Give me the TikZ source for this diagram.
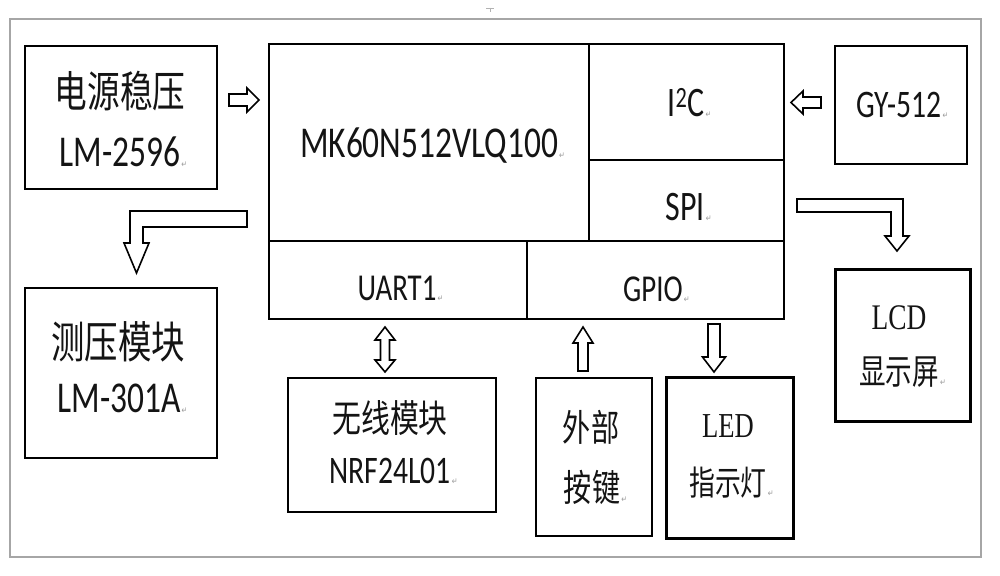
\documentclass[tikz,border=0pt]{standalone}
\usepackage{fontspec}
\setmainfont{Carlito}
\newfontfamily\cjk{Noto Sans CJK SC}
\newfontfamily\tms{Liberation Serif}
\newfontfamily\djv{DejaVu Sans}
\usepackage{graphicx}
\newcommand\sq[1]{\scalebox{0.76}[1]{#1}}
\newcommand\retmark{\rlap{\kern1.5pt\raisebox{-1pt}{\djv\fontsize{9}{9}\selectfont\color{gray!80}↵}}}
\newcommand\fsz[1]{\fontsize{#1}{#1}\selectfont}
\tikzset{
 box/.style={draw=black, line width=2pt, anchor=north west, inner sep=0pt},
 thickbox/.style={box, line width=3.2pt},
 lbl/.style={inner sep=0pt, anchor=center, text=black!92},
 blk/.style={draw=black, line width=1.6pt, fill=white, line join=miter},
 divline/.style={draw=black, line width=2pt},
}
\begin{document}
\begin{tikzpicture}[x=1pt,y=-1pt]
\useasboundingbox (0,0) rectangle (1000,575);
\fill[white] (0,0) rectangle (1000,575);
\draw[gray!70, line width=1.5pt] (10,19) rectangle (981,557);
% small anchor mark at top
\coordinate (mkL) at (486,8);
\coordinate (mkR) at (494,8);
\coordinate (mkT) at (490,8);
\coordinate (mkB) at (490,12);
\draw[gray!60, line width=0.8pt] (mkL) -- (mkR) (mkT) -- (mkB);

% boxes
\node[box, minimum width=192pt, minimum height=143pt] (pwr) at (24,45) {};
\node[box, minimum width=515pt, minimum height=275pt] (mcu) at (268,43) {};
\node[box, minimum width=132pt, minimum height=118pt] (gy) at (834,45) {};
\node[thickbox, minimum width=135pt, minimum height=152pt] (lcd) at (834,268) {};
\node[box, minimum width=192pt, minimum height=170pt] (press) at (24,287) {};
\node[box, minimum width=208pt, minimum height=134pt] (rf) at (287,377) {};
\node[box, minimum width=116pt, minimum height=158pt] (key) at (535,377) {};
\node[thickbox, minimum width=127pt, minimum height=161pt] (led) at (665,376) {};

% MCU internal dividers
\coordinate (v1t) at (589,43);
\coordinate (v1b) at (589,241);
\coordinate (hl) at (268,241);
\coordinate (hr) at (783,241);
\coordinate (h2l) at (589,160);
\coordinate (h2r) at (783,160);
\coordinate (v2t) at (527,241);
\coordinate (v2b) at (527,318);
\draw[divline] (v1t) -- (v1b);
\draw[divline] (hl) -- (hr);
\draw[divline] (h2l) -- (h2r);
\draw[divline] (v2t) -- (v2b);

% labels
\node[lbl, font=\cjk\fsz{43}] (pwrA) at (120,91) {\sq{电源稳压}};
\node[lbl, font=\fsz{44}] (pwrB) at (120,152) {\sq{LM-2596\retmark}};
\node[lbl, font=\fsz{44}] (mcuT) at (429,146) {\sq{MK60N512VLQ100\retmark}};
\node[lbl, font=\fsz{42}] (i2c) at (686,103) {\sq{I\textsuperscript{2}C\retmark}};
\node[lbl, font=\fsz{42}] (spi) at (685,207) {\sq{SPI\retmark}};
\node[lbl, font=\fsz{38}] (uart) at (397,289) {\sq{UART1\retmark}};
\node[lbl, font=\fsz{38}] (gpio) at (653,290) {\sq{GPIO\retmark}};
\node[lbl, font=\fsz{39}] (gyT) at (899,105) {\sq{GY-512\retmark}};
\node[lbl, font=\cjk\fsz{44}] (prA) at (118,342) {\sq{测压模块}};
\node[lbl, font=\fsz{44}] (prB) at (119,399) {\sq{LM-301A\retmark}};
\node[lbl, font=\cjk\fsz{38}] (rfA) at (390,418) {\sq{无线模块}};
\node[lbl, font=\fsz{39}] (rfB) at (390,471) {\sq{NRF24L01\retmark}};
\node[lbl, font=\cjk\fsz{37}] (keyA) at (591,427) {\sq{外部}};
\node[lbl, font=\cjk\fsz{37}] (keyB) at (592,487) {\sq{按键\retmark}};
\node[lbl, font=\tms\fsz{35}] (ledA) at (728,426) {\sq{LED}};
\node[lbl, font=\cjk\fsz{34}] (ledB) at (728,483) {\sq{指示灯\retmark}};
\node[lbl, font=\tms\fsz{36}] (lcdA) at (899,318) {\sq{LCD}};
\node[lbl, font=\cjk\fsz{35}] (lcdB) at (899,372) {\sq{显示屏\retmark}};

% block arrows
% power -> MCU
\draw[blk] (229,94) -- (247,94) -- (247,88) -- (259,100) -- (247,112) -- (247,106) -- (229,106) -- cycle;
% GY-512 -> I2C
\draw[blk] (821,97) -- (803,97) -- (803,91) -- (791,102.5) -- (803,114) -- (803,108) -- (821,108) -- cycle;
% MCU -> pressure (L shaped)
\draw[blk] (247,211) -- (130,211) -- (130,243) -- (124,243) -- (136.5,273) -- (149,243) -- (143,243) -- (143,227) -- (247,227) -- cycle;
% SPI -> LCD (L shaped)
\draw[blk] (797,199) -- (903,199) -- (903,236) -- (909,236) -- (897,251) -- (885,236) -- (891,236) -- (891,212) -- (797,212) -- cycle;
% UART1 <-> wireless
\draw[blk] (385,327) -- (395,340) -- (389.5,340) -- (389.5,360) -- (395,360) -- (385,372) -- (375,360) -- (380.5,360) -- (380.5,340) -- (375,340) -- cycle;
% keys -> GPIO
\draw[blk] (583,327) -- (593,343) -- (588,343) -- (588,371) -- (578,371) -- (578,343) -- (573,343) -- cycle;
% GPIO -> LED
\draw[blk] (708,324) -- (720,324) -- (720,357) -- (725.5,357) -- (714,372) -- (702.5,357) -- (708,357) -- cycle;
\end{tikzpicture}
\end{document}
